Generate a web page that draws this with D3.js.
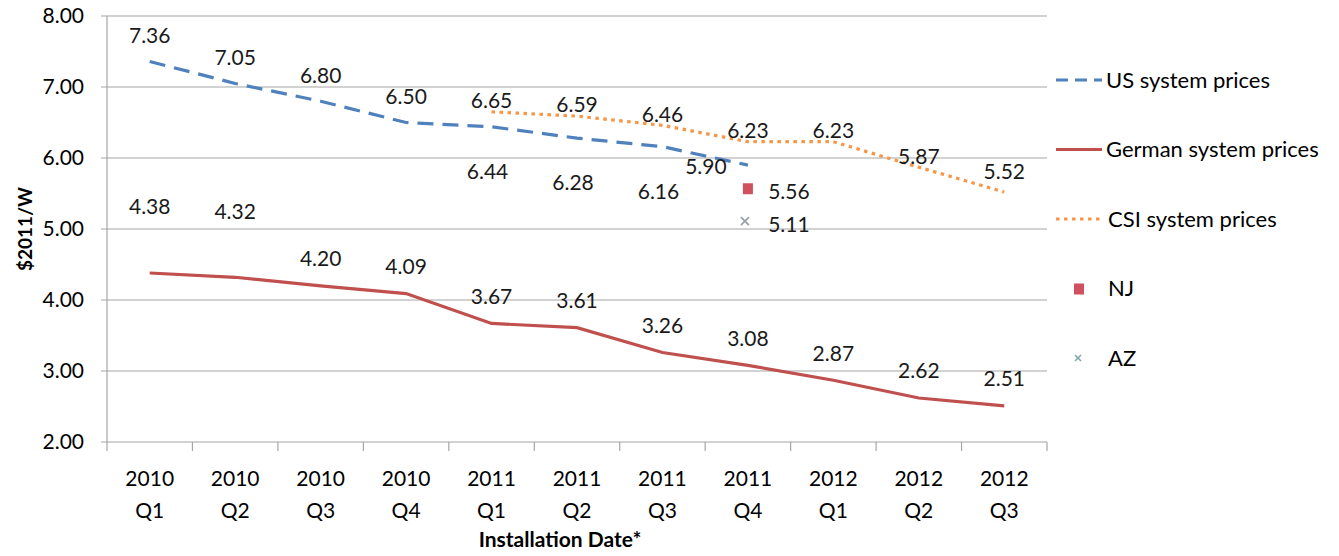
<!DOCTYPE html>
<html>
<head>
<meta charset="utf-8">
<script src="https://cdn.jsdelivr.net/npm/d3@7"></script>
<style>
  body { margin: 0; background: #fff; }
  svg { display: block; font-family: Lato, "Open Sans", sans-serif; }
</style>
</head>
<body>
<div id="chart"></div>
<script>
// ---- data ----
const quarters = ["2010 Q1", "2010 Q2", "2010 Q3", "2010 Q4", "2011 Q1", "2011 Q2",
                  "2011 Q3", "2011 Q4", "2012 Q1", "2012 Q2", "2012 Q3"];
const usPrices = [7.36, 7.05, 6.80, 6.50, 6.44, 6.28, 6.16, 5.90];
const germanPrices = [4.38, 4.32, 4.20, 4.09, 3.67, 3.61, 3.26, 3.08, 2.87, 2.62, 2.51];
const csiQuarters = ["2011 Q1", "2011 Q2", "2011 Q3", "2011 Q4", "2012 Q1", "2012 Q2", "2012 Q3"];
const csiPrices = [6.65, 6.59, 6.46, 6.23, 6.23, 5.87, 5.52];
const njPoint = { q: "2011 Q4", v: 5.56 };
const azPoint = { q: "2011 Q4", v: 5.11 };
const yTicks = [2, 3, 4, 5, 6, 7, 8];

const width = 1339, height = 556;
const margin = { left: 107, right: 292, top: 16, bottom: 114 };

const svg = d3.select("#chart").append("svg")
    .attr("width", width)
    .attr("height", height);

const x = d3.scaleBand()
    .domain(quarters)
    .range([margin.left, width - margin.right]);

const y = d3.scaleLinear()
    .domain([2, 8])
    .range([height - margin.bottom, margin.top]);

const cx = q => x(q) + x.bandwidth() / 2;

// gridlines
svg.append("g")
    .selectAll("line")
    .data(yTicks)
    .join("line")
    .attr("x1", margin.left - 6)
    .attr("x2", width - margin.right)
    .attr("y1", d => y(d))
    .attr("y2", d => y(d))
    .attr("stroke", "#a6a6a6")
    .attr("stroke-width", 1.2);

// y axis line
svg.append("line")
    .attr("x1", margin.left).attr("x2", margin.left)
    .attr("y1", y(8)).attr("y2", y(2))
    .attr("stroke", "#a6a6a6").attr("stroke-width", 1.2);

// y tick labels
svg.append("g")
    .selectAll("text")
    .data(yTicks)
    .join("text")
    .attr("x", margin.left - 23)
    .attr("y", d => y(d))
    .attr("dy", "0.35em")
    .attr("text-anchor", "end")
    .style("font-size", "21px")
    .text(d => d.toFixed(2));

// x ticks at band boundaries
const bounds = quarters.map(q => x(q)).concat([x(quarters[quarters.length - 1]) + x.bandwidth()]);
svg.append("g")
    .selectAll("line")
    .data(bounds)
    .join("line")
    .attr("x1", d => d).attr("x2", d => d)
    .attr("y1", y(2)).attr("y2", y(2) + 9)
    .attr("stroke", "#a6a6a6").attr("stroke-width", 1.2);

// x labels (two lines)
const xl = svg.append("g")
    .selectAll("text")
    .data(quarters)
    .join("text")
    .attr("x", d => cx(d))
    .attr("y", y(2) + 44)
    .attr("text-anchor", "middle")
    .style("font-size", "21px");
xl.append("tspan").attr("x", d => cx(d)).text(d => d.split(" ")[0]);
xl.append("tspan").attr("x", d => cx(d)).attr("dy", 32).text(d => d.split(" ")[1]);

// axis titles
svg.append("text")
    .attr("transform", `translate(25,${(y(2) + y(8)) / 2}) rotate(-90)`)
    .attr("text-anchor", "middle")
    .attr("dy", "0.35em")
    .style("font-size", "19px")
    .style("font-weight", "bold")
    .text("$2011/W");

svg.append("text")
    .attr("x", 560)
    .attr("y", 547)
    .attr("text-anchor", "middle")
    .style("font-size", "21px")
    .style("font-weight", "bold")
    .text("Installation Date*");

// ---- lines ----
const line = d3.line().x(d => cx(d.q)).y(d => y(d.v));

const usData = usPrices.map((v, i) => ({ q: quarters[i], v }));
const deData = germanPrices.map((v, i) => ({ q: quarters[i], v }));
const csiData = csiPrices.map((v, i) => ({ q: csiQuarters[i], v }));

const usColor = "#4f81bd", deColor = "#c0504d", csiColor = "#f79646";

svg.append("path")
    .datum(deData)
    .attr("d", line)
    .attr("fill", "none")
    .attr("stroke", deColor)
    .attr("stroke-width", 3.2);

svg.append("path")
    .datum(usData)
    .attr("d", line)
    .attr("fill", "none")
    .attr("stroke", usColor)
    .attr("stroke-width", 3.2)
    .attr("stroke-dasharray", "16,9");

svg.append("path")
    .datum(csiData)
    .attr("d", line)
    .attr("fill", "none")
    .attr("stroke", csiColor)
    .attr("stroke-width", 3.2)
    .attr("stroke-dasharray", "3.5,4.5");

// NJ marker
svg.append("rect")
    .attr("x", cx(njPoint.q) - 5)
    .attr("y", y(njPoint.v) - 6)
    .attr("width", 10).attr("height", 11)
    .attr("fill", "#d0505e");

// AZ marker (x)
const az = svg.append("g")
    .attr("transform", `translate(${cx(azPoint.q) - 3},${y(azPoint.v)})`)
    .attr("stroke", "#9aa4a8").attr("stroke-width", 1.8);
az.append("line").attr("x1", -4).attr("y1", -4).attr("x2", 4).attr("y2", 4);
az.append("line").attr("x1", -4).attr("y1", 4).attr("x2", 4).attr("y2", -4);

// ---- data labels ----
function labels(data, place) {
    svg.append("g")
        .selectAll("text")
        .data(data)
        .join("text")
        .attr("x", (d, i) => cx(d.q) + place(d, i)[0])
        .attr("y", (d, i) => y(d.v) + place(d, i)[1])
        .attr("dy", "0.35em")
        .attr("text-anchor", "middle")
        .style("font-size", "21px")
        .style("fill", "#1a1a1a")
        .text(d => d.v.toFixed(2));
}

labels(usData, (d, i) => i < 4 ? [0, -26] : (i === 7 ? [-42, 2] : [-4, 45]));
labels(deData, (d, i) => i < 2 ? [0, -66] : [0, -27]);
labels(csiData, (d, i) => i === 6 ? [0, -20] : [0, -11]);
labels([njPoint], () => [41, 2]);
labels([azPoint], () => [41, 3]);

// ---- legend ----
const legendItems = [
    { name: "US system prices", type: "us" },
    { name: "German system prices", type: "de" },
    { name: "CSI system prices", type: "csi" },
    { name: "NJ", type: "nj" },
    { name: "AZ", type: "az" }
];
const legend = svg.append("g");
legendItems.forEach((d, i) => {
    const ly = 80 + i * 69.5;
    const g = legend.append("g").attr("transform", `translate(1056,${ly})`);
    if (d.type === "us") {
        g.append("line").attr("x1", 0).attr("x2", 46).attr("y1", 0).attr("y2", 0)
            .attr("stroke", usColor).attr("stroke-width", 3.2).attr("stroke-dasharray", "12,7");
    } else if (d.type === "de") {
        g.append("line").attr("x1", 0).attr("x2", 46).attr("y1", 0).attr("y2", 0)
            .attr("stroke", deColor).attr("stroke-width", 3.2);
    } else if (d.type === "csi") {
        g.append("line").attr("x1", 0).attr("x2", 46).attr("y1", 0).attr("y2", 0)
            .attr("stroke", csiColor).attr("stroke-width", 3.2).attr("stroke-dasharray", "3.5,4.5");
    } else if (d.type === "nj") {
        g.append("rect").attr("x", 18).attr("y", -5).attr("width", 10).attr("height", 11)
            .attr("fill", "#d0505e");
    } else {
        g.append("line").attr("x1", 19).attr("y1", -3).attr("x2", 25).attr("y2", 3)
            .attr("stroke", "#7fa9a8").attr("stroke-width", 1.6);
        g.append("line").attr("x1", 19).attr("y1", 3).attr("x2", 25).attr("y2", -3)
            .attr("stroke", "#7fa9a8").attr("stroke-width", 1.6);
    }
    g.append("text")
        .attr("x", d.type === "us" || d.type === "de" ? 50 : 52)
        .attr("y", 0)
        .attr("dy", "0.35em")
        .style("font-size", "22px")
        .text(d.name);
});
</script>
</body>
</html>
